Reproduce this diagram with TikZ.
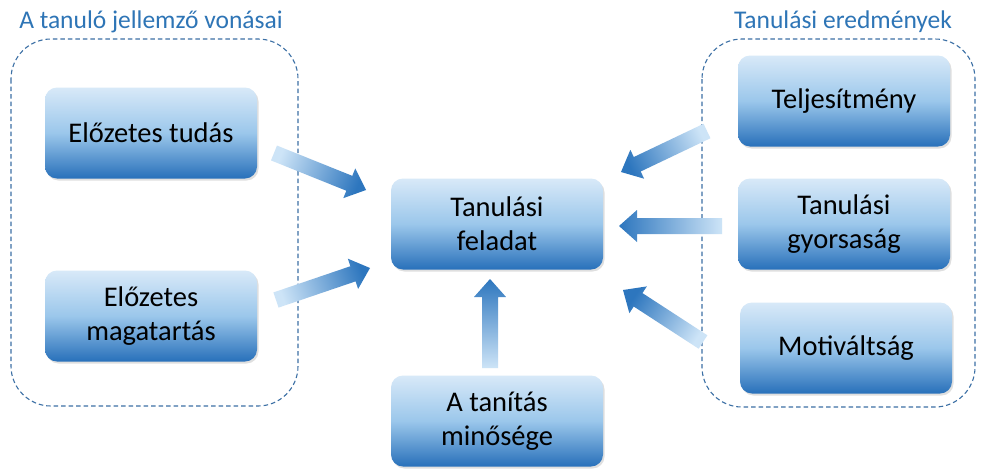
\documentclass[tikz,border=0pt]{standalone}
\usepackage{fontspec}
\setmainfont{Carlito}
\usetikzlibrary{calc,shadows}
\definecolor{titleblue}{RGB}{46,117,182}
\definecolor{dashblue}{RGB}{60,112,165}
\definecolor{boxtop}{RGB}{216,233,248}
\definecolor{boxmid}{RGB}{155,199,235}
\definecolor{boxbot}{RGB}{40,112,186}
\definecolor{arrlight}{RGB}{205,228,247}
\definecolor{arrdark}{RGB}{45,118,190}
\tikzset{
  boxnode/.style={rounded corners=12pt, minimum width=212pt, minimum height=91pt,
    top color=boxtop, bottom color=boxbot, middle color=boxmid,
    align=center, font=\fontsize{28.5}{34}\selectfont, text=black,
    drop shadow={opacity=0.25, shadow xshift=1.5pt, shadow yshift=-2pt}},
  groupbox/.style={draw=dashblue, line width=1.1pt, dash pattern=on 4.5pt off 3pt, rounded corners=40pt},
  grouptitle/.style={text=titleblue, font=\fontsize{25.5}{30}\selectfont},
  arrowshade/.style={top color=arrdark, bottom color=arrlight}
}
\newcommand\blockarrow[3]{%
  \coordinate (#1-h) at ($(#2)!18pt!(#1)$);
  \shade[arrowshade, shading angle=#3]
    ($(#1)!8pt!-90:(#2)$) -- ($(#1-h)!8pt!90:(#1)$) -- ($(#1-h)!16pt!90:(#1)$) -- (#2)
    -- ($(#1-h)!16pt!-90:(#1)$) -- ($(#1-h)!8pt!-90:(#1)$) -- ($(#1)!8pt!90:(#2)$) -- cycle;}
\begin{document}
\begin{tikzpicture}[x=1pt,y=-1pt]
\useasboundingbox (0,0) rectangle (981,469);
\fill[white] (0,0) rectangle (981,469);
% group boxes
\draw[groupbox] (11,39) rectangle (298,406);
\draw[groupbox] (702,39) rectangle (975,407);
\node[grouptitle] (t1) at (151,22) {A tanuló jellemző vonásai};
\node[grouptitle] (t2) at (843,22) {Tanulási eredmények};
% boxes
\node[boxnode] (elotud) at (151,133) {Előzetes tudás};
\node[boxnode] (elomag) at (151,316) {Előzetes\\magatartás};
\node[boxnode] (feladat) at (497,224) {Tanulási\\feladat};
\node[boxnode] (tanitas) at (497,421) {A tanítás\\minősége};
\node[boxnode] (telj) at (844,101) {Teljesítmény};
\node[boxnode] (gyors) at (844,224) {Tanulási\\gyorsaság};
\node[boxnode] (motiv) at (846,348) {Motiváltság};
% arrow end points
\coordinate (a1t) at (274,153); \coordinate (a1h) at (366,190);
\coordinate (a2t) at (276,300); \coordinate (a2h) at (370,268);
\coordinate (a3t) at (490,368); \coordinate (a3h) at (490,279);
\coordinate (a4t) at (707,131); \coordinate (a4h) at (621,172);
\coordinate (a5t) at (722,226); \coordinate (a5h) at (619,226);
\coordinate (a6t) at (703,342); \coordinate (a6h) at (623,290);
\blockarrow{a1t}{a1h}{-112}
\blockarrow{a2t}{a2h}{-70}
\blockarrow{a3t}{a3h}{0}
\blockarrow{a4t}{a4h}{115}
\blockarrow{a5t}{a5h}{90}
\blockarrow{a6t}{a6h}{57}
\end{tikzpicture}
\end{document}
